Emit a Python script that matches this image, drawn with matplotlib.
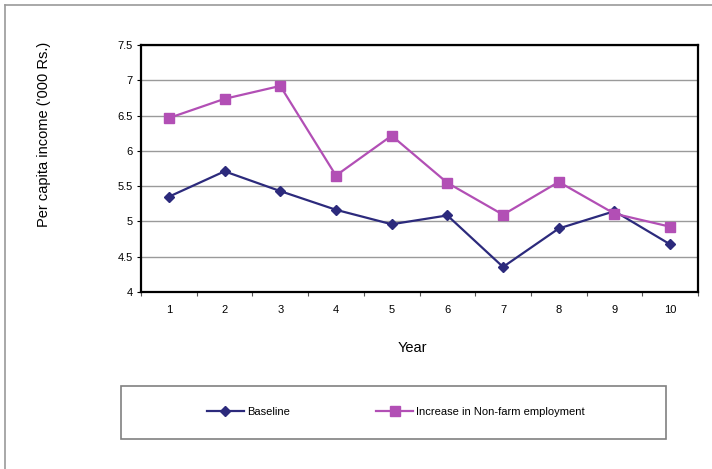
import matplotlib
matplotlib.use("Agg")
import matplotlib.pyplot as plt
from matplotlib.patches import Rectangle

plt.rcParams['font.family'] = ['Liberation Sans', 'DejaVu Sans']

years = [1, 2, 3, 4, 5, 6, 7, 8, 9, 10]
baseline = [5.35, 5.71, 5.43, 5.165, 4.96, 5.085, 4.355, 4.90, 5.145, 4.675]
nonfarm = [6.465, 6.737, 6.92, 5.65, 6.215, 5.547, 5.095, 5.56, 5.11, 4.925]
y_ticks = [4, 4.5, 5, 5.5, 6, 6.5, 7, 7.5]
y_tick_labels = ['4', '4.5', '5', '5.5', '6', '6.5', '7', '7.5']

blue = '#2c2a7c'
pink = '#b24fb5'

fig = plt.figure(figsize=(7.12, 4.69), dpi=100)

# outer frame (top and left edges)
fig.add_artist(plt.Line2D([5/712, 1.0], [1 - 5/469, 1 - 5/469], transform=fig.transFigure,
                          color='#9a9a9a', lw=1.2))
fig.add_artist(plt.Line2D([5/712, 5/712], [0, 1 - 5/469], transform=fig.transFigure,
                          color='#9a9a9a', lw=1.2))

ax = fig.add_axes([141/712, 1 - 292/469, (698 - 141)/712, (292 - 45)/469])
ax.plot(years, baseline, color=blue, marker='D', markersize=5.5, lw=1.6, label='Baseline')
ax.plot(years, nonfarm, color=pink, marker='s', markersize=6.5, lw=1.6,
        label='Increase in Non-farm employment')

ax.set_xlim(0.5, 10.5)
ax.set_ylim(4, 7.5)
ax.set_yticks(y_ticks)
ax.set_yticklabels(y_tick_labels)
ax.set_xticks(years)
ax.set_xticks([x + 0.5 for x in range(0, 11)], minor=True)
ax.tick_params(axis='x', which='major', length=0, pad=9, labelsize=8)
ax.tick_params(axis='x', which='minor', length=3, color='#555555', width=0.8)
ax.tick_params(axis='y', length=3, labelsize=8, pad=3)
ax.grid(axis='y', color='#9a9a9a', lw=1.0)
ax.set_axisbelow(True)
for s in ax.spines.values():
    s.set_color('black')
    s.set_linewidth(1.6)

fig.text(412/712, 1 - 348/469, 'Year', ha='center', va='center', fontsize=10.5)
fig.text(44/712, 1 - 134/469, "Per capita income ('000 Rs.)", ha='center', va='center',
         rotation=90, fontsize=10.5)

# legend box
fig.add_artist(Rectangle((121/712, 1 - 439/469), (666 - 121)/712, (439 - 386)/469,
                         transform=fig.transFigure, fill=False, edgecolor='#808080', lw=1.2))
handles, labels = ax.get_legend_handles_labels()
fig.legend(handles, labels, loc='center', bbox_to_anchor=(396/712, 1 - 412/469), ncol=2,
           frameon=False, fontsize=8, columnspacing=7.8, handlelength=3.3, handletextpad=0.3)

fig.savefig('out.png', dpi=100)
